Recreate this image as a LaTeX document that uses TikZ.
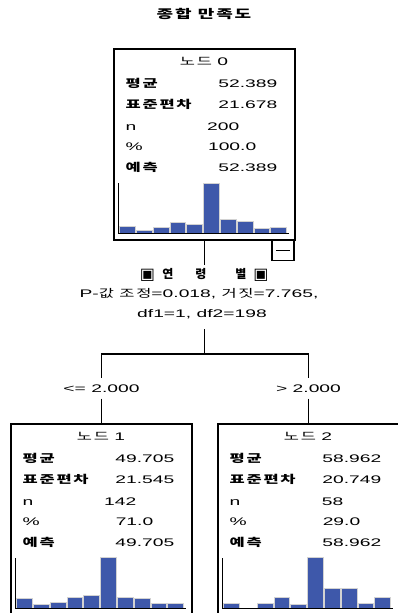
\documentclass[tikz,border=0pt]{standalone}
\usepackage{fontspec}
\setmainfont[FakeStretch=1.75]{Liberation Sans}
\newfontfamily\kr[FakeStretch=1.5, LetterSpace=16]{Noto Sans CJK KR}
\newfontfamily\krn{Noto Sans CJK KR}
\newfontfamily\sym{DejaVu Sans}
\definecolor{barblue}{RGB}{62,88,170}
\newcommand\K[1]{{\kr\fontsize{11}{12}\selectfont #1}}
\newcommand\KB[1]{{\kr\bfseries\fontsize{11}{12}\selectfont #1}}
\tikzset{
  box/.style={draw, line width=1.1pt, inner sep=0pt, rectangle, minimum width=181pt},
  txt/.style={inner sep=0pt, font=\fontsize{11}{13}\selectfont},
  lbl/.style={inner sep=0pt, text height=8pt, text depth=0pt, font=\fontsize{11}{13}\selectfont},
  conn/.style={line width=1.1pt},
  axisline/.style={line width=1.1pt},
  bar/.style={fill=barblue, draw=gray!35, line width=0.6pt}
}
% #1 prefix, #2 id, #3 mean, #4 sd, #5 n, #6 pct, #7 pred, #8 bars
\newcommand\statcontent[8]{%
  \node[txt, anchor=base] (#1t) at (90.5,17) {\K{노드} #2};
  \node[txt, anchor=base west] (#1la) at (12,39) {\KB{평균}};
  \node[txt, anchor=base east] (#1va) at (164,39) {#3};
  \node[txt, anchor=base west] (#1lb) at (12,60) {\KB{표준편차}};
  \node[txt, anchor=base east] (#1vb) at (164,60) {#4};
  \node[txt, anchor=base west] (#1lc) at (12,82) {n};
  \node[txt, anchor=base east] (#1vc) at (126,82) {#5};
  \node[txt, anchor=base west] (#1ld) at (12,102) {\%};
  \node[txt, anchor=base east] (#1vd) at (143,102) {#6};
  \node[txt, anchor=base west] (#1le) at (12,123) {\KB{예측}};
  \node[txt, anchor=base east] (#1ve) at (164,123) {#7};
  \foreach \h [count=\i] in {#8} {
    \ifdim\h pt>0pt
      \draw[bar] ({6+(\i-1)*16.8},185) rectangle ++(15.8,-\h);
    \fi
  }
  \draw[axisline] (5,135) -- (5,185) -- (176,185);
}
\begin{document}
\begin{tikzpicture}[x=1pt,y=-1pt]
\useasboundingbox (0,0) rectangle (397,613);
\fill[white] (0,0) rectangle (397,613);

\node[txt, anchor=base] (title) at (204,18.5) {{\kr\bfseries\fontsize{12}{12}\selectfont 종합 만족도}};

% root node
\node[box, minimum height=191pt] (n0) at (204.5,144.5) {};
\begin{scope}[shift={(n0.north west)}]
  \statcontent{a}{0}{52.389}{21.678}{200}{100.0}{52.389}{7,3,6,11,9,50,14,12,5,6}
\end{scope}
\node[draw, line width=1.1pt, inner sep=0pt, minimum width=22pt, minimum height=21pt, anchor=north east] (mb) at (294.5,239) {};
\draw[line width=1.1pt] ([xshift=-7pt]mb.center) -- ([xshift=7pt]mb.center);

% split description
\node[lbl, anchor=base] (s1a) at (147.5,279) {\sym\fontsize{16}{16}\selectfont ▣};
\node[lbl, anchor=base] (s1b) at (168,278) {{\krn\bfseries\fontsize{12}{12}\selectfont 연}};
\node[lbl, anchor=base, outer sep=5pt] (s1c) at (201,278) {{\krn\bfseries\fontsize{12}{12}\selectfont 령}};
\node[lbl, anchor=base] (s1d) at (241,278) {{\krn\bfseries\fontsize{12}{12}\selectfont 별}};
\node[lbl, anchor=base] (s1e) at (261,279) {\sym\fontsize{16}{16}\selectfont ▣};
\node[lbl, anchor=base] (s2) at (199,297) {P-\K{값} \K{조정}=0.018, \K{거짓}=7.765,};
\node[lbl, anchor=base, outer sep=12pt] (s3) at (202,317) {df1=1, df2=198};

\coordinate (j) at (204.5,354);
\draw[conn] (n0.south) -- (n0.south |- s1c.north);
\draw[conn] (j |- s3.south) -- (j);

% children
\node[lbl, anchor=base, outer sep=6.5pt] (l1) at (101.5,392) {<= 2.000};
\node[lbl, anchor=base, outer sep=6.5pt] (l2) at (308.5,392) {> 2.000};
\draw[conn] (l1.north) |- (j) -| (l2.north);

\node[box, minimum height=206pt] (n1) at (101.5,527) {};
\node[box, minimum height=206pt] (n2) at (308.5,527) {};
\draw[conn] (l1.south) -- (n1.north);
\draw[conn] (l2.south) -- (n2.north);

\begin{scope}[shift={(n1.north west)}]
  \statcontent{b}{1}{49.705}{21.545}{142}{71.0}{49.705}{10,4,6,11,13,51,11,10,5,5}
\end{scope}
\begin{scope}[shift={(n2.north west)}]
  \statcontent{c}{2}{58.962}{20.749}{58}{29.0}{58.962}{5,0,5,11,4,51,20,20,5,11}
\end{scope}
\end{tikzpicture}
\end{document}
